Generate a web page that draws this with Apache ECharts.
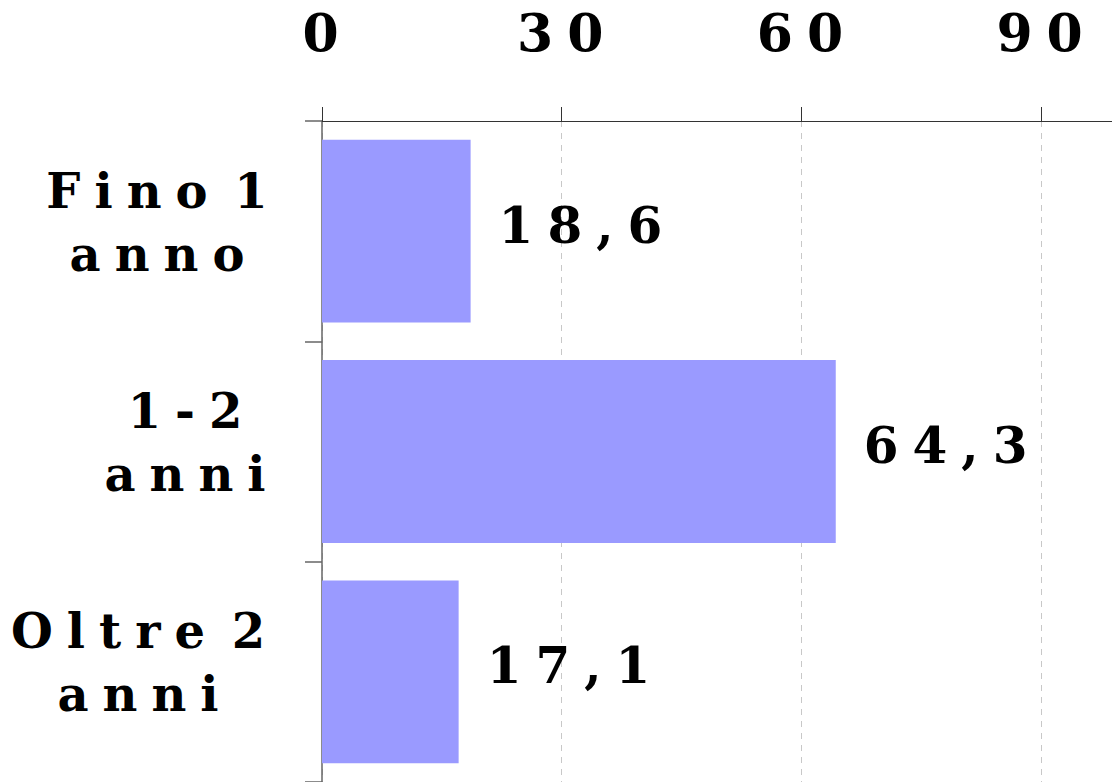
<!DOCTYPE html>
<html>
<head>
<meta charset="utf-8">
<script src="https://cdn.jsdelivr.net/npm/echarts@6/dist/echarts.min.js"></script>
<style>
html,body{margin:0;padding:0;background:#fff;}
#chart{width:1112px;height:782px;}
#chart text{letter-spacing:14px;word-spacing:-18px;}
</style>
</head>
<body>
<div id="chart"></div>
<script>
const categories = ['Fino 1 anno', '1-2 anni', 'Oltre 2 anni'];
const values = [18.6, 64.3, 17.1];
const tickValues = [0, 30, 60, 90];

// per-category horizontal nudge of the label block (px)
const labelShift = [0, 28, -19];

const FONT = 'DejaVu Serif';
const labelRich = {
  a: {align: 'center', fontFamily: FONT, fontWeight: 'bold', fontSize: 48, color: '#000', lineHeight: 63},
  s: {align: 'center', fontSize: 1, lineHeight: 18, color: 'rgba(0,0,0,0)'}
};
const labelBase = {
  align: 'center', verticalAlign: 'middle',
  fontFamily: FONT, fontWeight: 'bold', fontSize: 48, color: '#000', lineHeight: 63,
  rich: labelRich
};
const chart = echarts.init(document.getElementById('chart'), null, {renderer: 'svg'});
chart.setOption({
  animation: false,
  backgroundColor: '#ffffff',
  grid: {left: 322, width: 799, top: 121, bottom: 0, containLabel: false, outerBoundsMode: 'none'},
  xAxis: {
    type: 'value',
    position: 'top',
    min: 0,
    max: 100,
    interval: 30,
    axisLine: {show: true, lineStyle: {color: '#333', width: 1}},
    axisTick: {show: true, length: 14, lineStyle: {color: '#333'}},
    splitLine: {show: true, lineStyle: {type: [6, 6], color: '#c8c8c8', width: 1}},
    axisLabel: {
      showMaxLabel: false,
      margin: 63,
      padding: [0, 0, 0, 11],
      fontFamily: FONT, fontWeight: 'bold', fontSize: 52, color: '#000',
      formatter: v => tickValues.includes(v) ? String(v) : ''
    }
  },
  yAxis: {
    type: 'category',
    inverse: true,
    data: categories.map((c, i) => ({
      value: c,
      textStyle: Object.assign({}, labelBase, {
        padding: [0, Math.max(0, -2 * labelShift[i]), 0, Math.max(0, 2 * labelShift[i])]
      })
    })),
    axisLine: {show: true, lineStyle: {color: '#666', width: 1.5}},
    axisTick: {show: true, length: 17, lineStyle: {color: '#666', width: 1.5}},
    axisLabel: Object.assign({
      margin: 158,
      formatter: s => {
        const i = s.lastIndexOf(' ');
        return '{a|' + s.slice(0, i) + '}\n{a|' + s.slice(i + 1) + '}\n{s| }';
      }
    }, labelBase)
  },
  series: [{
    type: 'bar',
    data: values,
    barCategoryGap: '17%',
    itemStyle: {color: '#9a9aff'},
    label: {
      show: true,
      position: 'right',
      distance: 28,
      offset: [0, -6],
      fontFamily: FONT, fontWeight: 'bold', fontSize: 50, color: '#000',
      formatter: p => String(p.value).replace('.', ',')
    }
  }]
});
</script>
</body>
</html>
